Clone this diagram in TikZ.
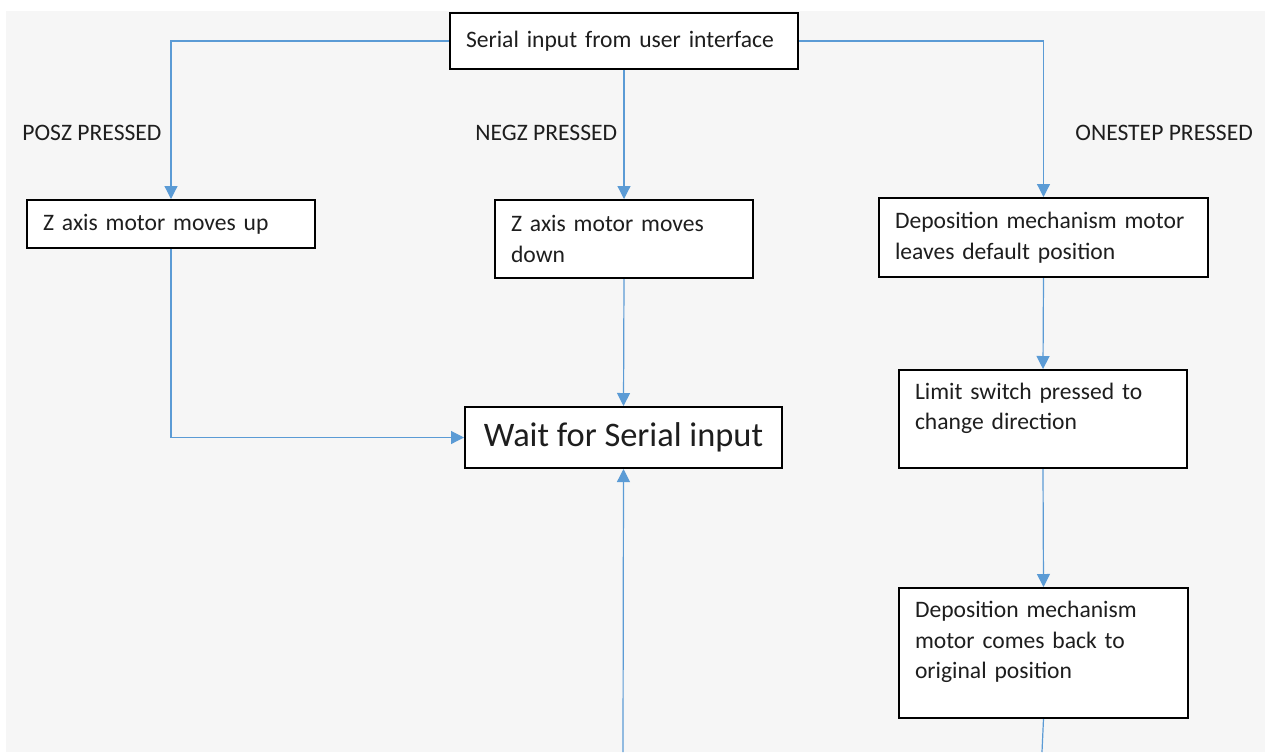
\documentclass[tikz,border=0pt]{standalone}
\usepackage{fontspec}
\setmainfont{Carlito}
\usetikzlibrary{arrows.meta}
\definecolor{paper}{HTML}{F6F6F6}
\definecolor{wire}{HTML}{5B9BD5}
\definecolor{ink}{HTML}{1E1E1E}
\tikzset{
  box/.style={draw=black, line width=1pt, fill=white, anchor=north west,
    align=left, inner xsep=8pt, text=ink,
    font=\fontsize{11.8}{15.3}\selectfont},
  cond/.style={anchor=west, inner sep=0pt, text=ink,
    font=\fontsize{11.8}{15.3}\selectfont},
  link/.style={draw=wire, line width=0.6pt,
    -{Triangle[width=6.5pt,length=6.5pt]}},
}
\begin{document}
\begin{tikzpicture}[x=0.5pt,y=-0.5pt]
      \useasboundingbox (0,0) rectangle (1265,752);
      \fill[paper] (6,11) rectangle (1265,752);
      \draw
        (449,12) node[box, minimum width=174pt, minimum height=28pt, text width=158pt] (serial){Serial input from user interface}
        (26,199) node[box, minimum width=144pt, minimum height=24pt, text width=128pt] (up){Z axis motor moves up}
        (494,199) node[box, minimum width=129pt, minimum height=39pt, text width=113pt] (down){Z axis motor moves\\down}
        (878,197) node[box, minimum width=164.5pt, minimum height=39.5pt, text width=148.5pt] (leave){Deposition mechanism motor\\leaves default position}
        (898,369) node[box, minimum width=144pt, minimum height=49pt, text width=128pt] (limit){Limit switch pressed to\\change direction\\[-7pt]\strut}
        (898,587) node[box, minimum width=144.5pt, minimum height=65pt, text width=128.5pt] (back){Deposition mechanism\\motor comes back to\\original position\\[-7pt]\strut}
        (464,406) node[box, align=center, minimum width=158.5pt, minimum height=30.5pt, font=\fontsize{17.2}{20}\selectfont] (wait){Wait for Serial input};
      \draw
        (22,133) node[cond] (posz){POSZ PRESSED}
        (475,133) node[cond] (negz){NEGZ PRESSED}
        (1075,133) node[cond] (onestep){ONESTEP PRESSED};
      \coordinate (endM) at (623,752);
      \coordinate (endR) at (1042,752);
      \begin{scope}[link]
        \draw (serial.west) -| (up.north);
        \draw (serial.south) -- (down.north);
        \draw (serial.east) -| (leave.north);
        \draw (up.south) |- (wait.west);
        \draw (down.south) -- (wait.north);
        \draw (endM) -- (wait.south);
        \draw (leave.south) -- (limit.north);
        \draw (limit.south) -- (back.north);
        \draw[-] (back.south) -- (endR);
      \end{scope}
    \end{tikzpicture}
\end{document}
